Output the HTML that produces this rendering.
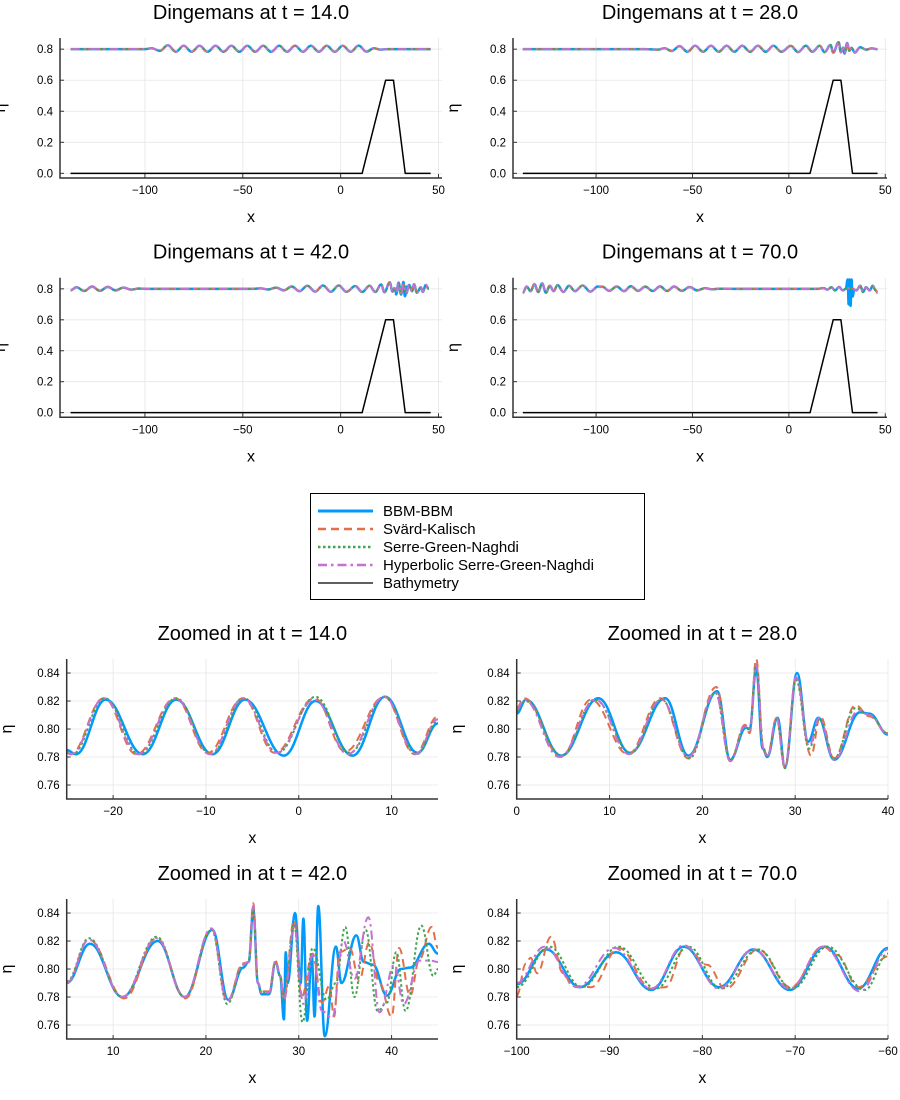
<!DOCTYPE html>
<html><head><meta charset="utf-8"><title>Dingemans comparison</title>
<style>
html,body{margin:0;padding:0;background:#fff;}
svg{display:block;font-family:"Liberation Sans","DejaVu Sans",sans-serif;}
</style></head>
<body>
<svg id="fig" width="900" height="1100" viewBox="0 0 900 1100" xmlns="http://www.w3.org/2000/svg"></svg>
<script>
// ---------- data: overview panels (single set drawn for every model, they overlap) ----------
const p1X=[-138,-100,-96.5,-92.4,-88.3,-84.2,-80.2,-76.1,-72.1,-68.0,-63.9,-59.9,-55.8,-51.8,-47.7,-43.6,-39.6,-35.5,-31.4,-27.4,-23.3,-19.3,-15.2,-11.1,-7.1,-3.0,1.1,5.1,9.2,13.2,17.0,20.5,24,46];
const p1Y=[0.8,0.8,0.806,0.789,0.825,0.783,0.822,0.783,0.822,0.783,0.822,0.783,0.822,0.783,0.822,0.783,0.822,0.783,0.822,0.783,0.822,0.783,0.822,0.783,0.822,0.783,0.822,0.783,0.823,0.784,0.806,0.797,0.8,0.8];
const p2X=[-138,-75,-68,-64.5,-60.8,-56.7,-52.6,-48.6,-44.5,-40.4,-36.4,-32.3,-28.3,-24.2,-20.1,-16.1,-12.0,-8.0,-3.9,1,4.8,8.8,12.2,16,18.5,21.6,23,25.8,27,28.1,28.9,30.2,31.4,32.5,34.2,37,40,43,46];
const p2Y=[0.8,0.8,0.797,0.806,0.788,0.82,0.783,0.822,0.783,0.822,0.783,0.822,0.783,0.822,0.783,0.822,0.783,0.822,0.783,0.821,0.781,0.822,0.783,0.822,0.781,0.827,0.778,0.845,0.78,0.81,0.772,0.84,0.79,0.808,0.778,0.812,0.797,0.805,0.8];
const p3X=[-138,-135,-131,-127,-123,-119,-115,-111,-107,-103,-100,-45,-41,-37,-33,-29,-25,-21,-17,-13,-9,-5,-1,3,7.5,11,14.8,17.7,20.7,22.4,25.1,26.5,27.5,28.4,29.6,30.9,32.1,33.5,35,36.5,37.5,39,41,42,43.5,45];
const p3Y=[0.79,0.81,0.786,0.815,0.787,0.813,0.79,0.808,0.795,0.802,0.8,0.8,0.803,0.796,0.808,0.79,0.815,0.785,0.82,0.782,0.822,0.781,0.822,0.781,0.818,0.78,0.82,0.78,0.828,0.778,0.842,0.782,0.805,0.775,0.835,0.77,0.83,0.77,0.825,0.785,0.83,0.775,0.81,0.78,0.825,0.8];
const p3BlueX=[28,28.4,29.6,30.9,32.1,32.8,34];
const p3BlueY=[0.8,0.764,0.84,0.763,0.845,0.752,0.816];
const p4X=[-138,-136,-134,-132,-130,-128,-126,-124,-122,-120,-117,-114,-111,-107,-103,-99,-96.8,-93.2,-89.3,-85.5,-82,-78.2,-74.5,-70.6,-66.8,-63.2,-59.5,-55.5,-51.5,-47.5,-43.5,-40,-36,-30,15,18,20,22,24,26,28,30,33,35,37,38.5,40,42,43.5,45,46];
const p4Y=[0.775,0.815,0.785,0.83,0.78,0.835,0.775,0.82,0.785,0.825,0.78,0.82,0.785,0.822,0.782,0.815,0.814,0.787,0.815,0.785,0.817,0.787,0.814,0.786,0.816,0.786,0.815,0.787,0.812,0.79,0.805,0.797,0.801,0.8,0.8,0.805,0.795,0.81,0.79,0.812,0.79,0.805,0.8,0.79,0.82,0.78,0.81,0.79,0.82,0.79,0.775];
const p4BlueX=[29.5,30.5,31,31.5,32,32.5,33,34];
const p4BlueY=[0.8,0.86,0.70,0.86,0.69,0.86,0.75,0.8];
const bathX=[-138,11,23,27,33,46];
const bathY=[0,0,0.6,0.6,0,0];
const overviewTimes=["14.0","28.0","42.0","70.0"];
const overviewXTicks=[-100,-50,0,50];
const overviewYTicks=[0,0.2,0.4,0.6,0.8];

// ---------- data: zoomed panels ----------
const z1BlueX=[-25,-24,-20.8,-16.8,-13.2,-9.3,-5.8,-1.6,1.8,5.8,9.3,12.8,15];
const z1BlueY=[0.785,0.782,0.821,0.782,0.821,0.782,0.821,0.781,0.820,0.781,0.823,0.783,0.804];
const z1OrangeX=[-25,-24.6,-21,-17.5,-13.3,-9.8,-6,-2.6,1.7,5,9.2,12.5,15];
const z1OrangeY=[0.783,0.782,0.822,0.782,0.822,0.783,0.822,0.783,0.822,0.784,0.823,0.782,0.809];
const z1GreenX=[-25,-24.4,-20.9,-17.2,-13.2,-9.5,-5.9,-2.3,1.8,5.5,9.2,12.7,15];
const z1GreenY=[0.784,0.782,0.822,0.782,0.822,0.782,0.822,0.783,0.823,0.783,0.823,0.782,0.806];
const z1PurpleX=[-25,-24.5,-21,-17.3,-13.3,-9.6,-6,-2.4,1.7,5.3,9.2,12.6,15];
const z1PurpleY=[0.783,0.782,0.822,0.782,0.822,0.782,0.822,0.783,0.821,0.782,0.823,0.782,0.807];

const z2BlueX=[0,1,4.8,8.8,12.2,16,18.5,21.6,23,24.7,25.1,25.8,26.5,27,28.1,28.9,30.2,31.4,32.5,34.2,37,38,40];
const z2BlueY=[0.811,0.821,0.781,0.822,0.783,0.822,0.781,0.827,0.778,0.801,0.800,0.843,0.786,0.780,0.808,0.773,0.840,0.791,0.808,0.778,0.812,0.811,0.796];
const z2OrangeX=[0,0.8,4.8,8,12,15.5,18.5,21.5,23,24.6,25.1,25.8,26.6,27,28,28.9,30.1,31.7,32.7,34.2,36.5,38,40];
const z2OrangeY=[0.815,0.822,0.780,0.821,0.782,0.822,0.779,0.830,0.777,0.803,0.797,0.850,0.785,0.781,0.808,0.772,0.836,0.781,0.809,0.779,0.817,0.809,0.797];
const z2GreenX=[0,0.9,4.9,8.4,12.3,15.6,18.6,21.4,23,24.6,25.1,25.8,26.6,27,28,28.9,30.1,31.5,32.6,34.2,36.5,38,40];
const z2GreenY=[0.813,0.820,0.781,0.821,0.783,0.821,0.779,0.826,0.778,0.802,0.799,0.846,0.786,0.781,0.807,0.772,0.835,0.786,0.807,0.779,0.815,0.810,0.797];
const z2PurpleX=[0,0.8,4.6,8.5,12.1,15.6,18.5,21.4,23,24.6,25.1,25.8,26.6,27,28,28.9,30.1,31.5,32.6,34.2,36.8,38,40];
const z2PurpleY=[0.814,0.821,0.780,0.821,0.782,0.821,0.780,0.826,0.777,0.802,0.799,0.846,0.786,0.780,0.808,0.773,0.837,0.788,0.808,0.778,0.813,0.810,0.796];

const z3BlueX=[5,7.5,11,14.8,17.7,20.7,22.4,24,24.6,25.1,25.6,26,26.8,27.5,28,28.4,28.6,28.8,29.6,30.2,30.5,30.9,31.4,31.7,32.1,32.8,34,34.6,36.2,37,38,39.5,41,42,44,45];
const z3BlueY=[0.790,0.818,0.780,0.820,0.780,0.828,0.778,0.801,0.805,0.842,0.790,0.782,0.782,0.805,0.795,0.764,0.812,0.790,0.840,0.790,0.836,0.763,0.810,0.766,0.845,0.752,0.816,0.790,0.824,0.805,0.803,0.781,0.800,0.801,0.818,0.811];
const z3OrangeX=[5,7.4,11.2,14.7,17.8,20.6,22.3,24,24.6,25.1,25.6,26,26.8,27.5,28,28.4,29.5,30.3,31.5,32.5,33.3,33.8,34.4,35.5,36.5,37.6,38.7,40,40.8,42,43,44.3,45];
const z3OrangeY=[0.790,0.821,0.779,0.822,0.779,0.829,0.777,0.804,0.805,0.847,0.790,0.784,0.784,0.806,0.795,0.780,0.835,0.780,0.811,0.776,0.788,0.766,0.812,0.815,0.792,0.819,0.790,0.766,0.815,0.781,0.807,0.830,0.815];
const z3GreenX=[5,7.4,11,14.7,17.7,20.6,22.3,24,24.6,25.1,25.6,26,26.8,27.5,28,28.4,29.5,30.4,31.5,33,34,35,36,37.2,38.5,39.5,40.5,41.5,43.2,44.5,45];
const z3GreenY=[0.791,0.822,0.780,0.823,0.780,0.828,0.775,0.803,0.805,0.844,0.790,0.783,0.783,0.805,0.795,0.778,0.832,0.762,0.815,0.778,0.790,0.830,0.780,0.828,0.770,0.776,0.812,0.770,0.831,0.795,0.800];
const z3PurpleX=[5,7.4,11,14.7,17.7,20.6,22.3,24,24.6,25.1,25.6,26,26.8,27.5,28,28.4,29.5,30.5,31.5,32.5,33.6,34.8,36,37.5,38.7,40.3,41.3,43,44.2,45];
const z3PurpleY=[0.790,0.821,0.780,0.822,0.780,0.829,0.777,0.803,0.805,0.845,0.790,0.783,0.783,0.806,0.795,0.778,0.830,0.775,0.810,0.770,0.765,0.820,0.793,0.837,0.769,0.803,0.775,0.806,0.806,0.805];

const z4BlueX=[-100,-96.8,-93.2,-89.3,-85.5,-82,-78.2,-74.5,-70.6,-66.8,-63.2,-60];
const z4BlueY=[0.789,0.814,0.787,0.812,0.785,0.816,0.787,0.814,0.785,0.816,0.786,0.815];
const z4OrangeX=[-100,-99,-98.5,-97.8,-96.3,-95,-94,-92,-89,-85.5,-84,-81.8,-79.5,-77.5,-74,-70.5,-67,-65.5,-63.2,-60];
const z4OrangeY=[0.781,0.804,0.808,0.797,0.823,0.797,0.788,0.787,0.815,0.786,0.787,0.816,0.803,0.786,0.814,0.787,0.816,0.81,0.787,0.809];
const z4GreenX=[-100,-96.5,-93,-89,-85,-81.5,-78,-74,-70.3,-66.5,-62.5,-60];
const z4GreenY=[0.787,0.816,0.787,0.816,0.786,0.816,0.786,0.814,0.786,0.816,0.785,0.811];
const z4PurpleX=[-100,-97,-93.5,-89.5,-85.5,-82,-78.2,-74.5,-70.6,-67,-63,-60];
const z4PurpleY=[0.790,0.816,0.787,0.815,0.786,0.817,0.786,0.814,0.786,0.816,0.784,0.814];

const zoomTimes=["14.0","28.0","42.0","70.0"];
const zoomYTicks=[0.76,0.78,0.80,0.82,0.84];
const z1XTicks=[-20,-10,0,10];
const z2XTicks=[0,10,20,30,40];
const z3XTicks=[10,20,30,40];
const z4XTicks=[-100,-90,-80,-70,-60];
const legendLabels=["BBM-BBM","Svärd-Kalisch","Serre-Green-Naghdi","Hyperbolic Serre-Green-Naghdi","Bathymetry"];

// ---------- rendering ----------
const NS="http://www.w3.org/2000/svg";
const svg=document.getElementById('fig');
const COLORS={blue:"#009AFA",orange:"#E26F46",green:"#3EA44E",purple:"#C371D2",bath:"#000"};
const DASH={blue:null,orange:"8,5",green:"2.5,2.5",purple:"9,4,2.5,4",bath:null};
const WIDTH={blue:2.5,orange:2,green:2,purple:2,bath:1.5};
let clipId=0;
function mk(tag,attrs,parent){const e=document.createElementNS(NS,tag);for(const k in attrs)e.setAttribute(k,attrs[k]);(parent||svg).appendChild(e);return e;}
function fmt(v,dec){return (v<0?"\u2212":"")+Math.abs(v).toFixed(dec);}
function smoothPath(xs,ys,sx,sy){
  let d="M"+sx(xs[0]).toFixed(2)+","+sy(ys[0]).toFixed(2);
  for(let i=1;i<xs.length;i++){
    const x0=sx(xs[i-1]),y0=sy(ys[i-1]),x1=sx(xs[i]),y1=sy(ys[i]);const dx=x1-x0;
    d+=" C"+(x0+dx*0.4).toFixed(2)+","+y0.toFixed(2)+" "+(x1-dx*0.4).toFixed(2)+","+y1.toFixed(2)+" "+x1.toFixed(2)+","+y1.toFixed(2);
  }
  return d;
}
function linePath(xs,ys,sx,sy){return xs.map((x,i)=>(i?"L":"M")+sx(x).toFixed(2)+","+sy(ys[i]).toFixed(2)).join(" ");}
function panel(cfg){
  const g=mk('g',{});
  
  
  const sx=v=>cfg.l+(v-cfg.x0)/(cfg.x1-cfg.x0)*(cfg.r-cfg.l);
  const sy=v=>cfg.b-(v-cfg.y0)/(cfg.y1-cfg.y0)*(cfg.b-cfg.t);
  const t=mk('text',{x:(cfg.l+cfg.r)/2,y:cfg.t-19,'text-anchor':'middle','font-size':20,fill:'#000'},g);
  
  
  t.textContent=cfg.title;
  cfg.xticks.forEach(v=>{
    const X=sx(v);
    const gl=mk('line',{x1:X,x2:X,y1:cfg.t,y2:cfg.b,stroke:'#e6e6e6','stroke-width':0.8},g);
    
    
    mk('line',{x1:X,x2:X,y1:cfg.b,y2:cfg.b-4,stroke:'#333','stroke-width':1},g);
    const tl=mk('text',{x:X,y:cfg.b+16,'text-anchor':'middle','font-size':11.5,fill:'#000'},g);
    
    
    tl.textContent=fmt(v,0);
  });
  cfg.yticks.forEach(v=>{
    const Y=sy(v);
    const gl=mk('line',{x1:cfg.l,x2:cfg.r,y1:Y,y2:Y,stroke:'#e6e6e6','stroke-width':0.8},g);
    
    
    mk('line',{x1:cfg.l,x2:cfg.l+4,y1:Y,y2:Y,stroke:'#333','stroke-width':1},g);
    const tl=mk('text',{x:cfg.l-7,y:Y+4,'text-anchor':'end','font-size':11.5,fill:'#000'},g);
    
    
    tl.textContent=fmt(v,cfg.ydec);
  });
  const cid='clip'+(clipId++);
  const cp=mk('clipPath',{id:cid},g);mk('rect',{x:cfg.l,y:cfg.t,width:cfg.r-cfg.l,height:cfg.b-cfg.t},cp);
  const sg=mk('g',{'clip-path':'url(#'+cid+')'},g);
  cfg.series.forEach(s=>{
    const d=s.linear?linePath(s.x,s.y,sx,sy):smoothPath(s.x,s.y,sx,sy);
    const p=mk('path',{d:d,fill:'none',stroke:COLORS[s.c],'stroke-width':WIDTH[s.c],'stroke-linejoin':'round'},sg);
    if(DASH[s.c])p.setAttribute('stroke-dasharray',DASH[s.c]);
    
    
  });
  const ax=mk('path',{d:`M${cfg.l},${cfg.t} L${cfg.l},${cfg.b} L${cfg.r},${cfg.b}`,fill:'none',stroke:'#333','stroke-width':1.5},g);
  
  
  const xl=mk('text',{x:(cfg.l+cfg.r)/2,y:cfg.b+44,'text-anchor':'middle','font-size':16,fill:'#000'},g);
  
  
  xl.textContent='x';
  const yl=mk('text',{x:0,y:0,'text-anchor':'middle','font-size':16,fill:'#000',transform:`translate(${cfg.l-55},${(cfg.t+cfg.b)/2}) rotate(-90)`},g);
  
  
  yl.textContent='η';
}
function ov(X,Y,bx,by){
  const s=[];
  if(bx)s.push({c:'blue',x:bx,y:by,name:'bbm-bbm-burst'});
  s.push({c:'blue',x:X,y:Y,name:'bbm-bbm-line'},{c:'orange',x:X,y:Y,name:'svard-kalisch-line'},{c:'green',x:X,y:Y,name:'serre-green-naghdi-line'},{c:'purple',x:X,y:Y,name:'hyperbolic-sgn-line'},{c:'bath',x:bathX,y:bathY,linear:true,name:'bathymetry-line'});
  return s;
}
const topY0=-0.030,topY1=0.872;
const ovs=[[p1X,p1Y],[p2X,p2Y],[p3X,p3Y,p3BlueX,p3BlueY],[p4X,p4Y,p4BlueX,p4BlueY]];
const ovFrames=[{l:60,r:442,t:38,b:178,x0:-143.4,x1:51.8},{l:513,r:887,t:38,b:178,x0:-143.1,x1:50.9},{l:60,r:442,t:277.7,b:417.3,x0:-143.4,x1:51.8},{l:513,r:887,t:277.7,b:417.3,x0:-143.1,x1:50.9}];
ovFrames.forEach((f,i)=>{
  panel(Object.assign({},f,{name:'overview-panel-t'+overviewTimes[i],title:'Dingemans at t = '+overviewTimes[i],y0:topY0,y1:topY1,xticks:overviewXTicks,yticks:overviewYTicks,ydec:1,series:ov(...ovs[i])}));
});
function zs(bx,by,ox,oy,gx,gy,px,py){return [{c:'blue',x:bx,y:by,name:'bbm-bbm-line'},{c:'orange',x:ox,y:oy,name:'svard-kalisch-line'},{c:'green',x:gx,y:gy,name:'serre-green-naghdi-line'},{c:'purple',x:px,y:py,name:'hyperbolic-sgn-line'}];}
const zFrames=[
 {l:66.7,r:438,t:659,b:799,x0:-25,x1:15,xticks:z1XTicks,series:zs(z1BlueX,z1BlueY,z1OrangeX,z1OrangeY,z1GreenX,z1GreenY,z1PurpleX,z1PurpleY)},
 {l:516.7,r:888,t:659,b:799,x0:0,x1:40,xticks:z2XTicks,series:zs(z2BlueX,z2BlueY,z2OrangeX,z2OrangeY,z2GreenX,z2GreenY,z2PurpleX,z2PurpleY)},
 {l:66.7,r:438,t:899,b:1039,x0:5,x1:45,xticks:z3XTicks,series:zs(z3BlueX,z3BlueY,z3OrangeX,z3OrangeY,z3GreenX,z3GreenY,z3PurpleX,z3PurpleY)},
 {l:516.7,r:888,t:899,b:1039,x0:-100,x1:-60,xticks:z4XTicks,series:zs(z4BlueX,z4BlueY,z4OrangeX,z4OrangeY,z4GreenX,z4GreenY,z4PurpleX,z4PurpleY)}];
zFrames.forEach((f,i)=>{
  panel(Object.assign({},f,{name:'zoomed-panel-t'+zoomTimes[i],title:'Zoomed in at t = '+zoomTimes[i],y0:0.75,y1:0.85,yticks:zoomYTicks,ydec:2}));
});
// legend
const lg=mk('g',{});


mk('rect',{x:310.5,y:493.5,width:334,height:106,fill:'#fff',stroke:'#000','stroke-width':1},lg);
const lc=['blue','orange','green','purple','bath'];
legendLabels.forEach((lab,i)=>{
  const y=511+i*18;
  const e=mk('g',{},lg);
  
  
  const l=mk('line',{x1:318,x2:373,y1:y,y2:y,stroke:COLORS[lc[i]],'stroke-width':lc[i]==='bath'?1.2:WIDTH[lc[i]]+0.5},e);
  if(DASH[lc[i]])l.setAttribute('stroke-dasharray',DASH[lc[i]]);
  const t=mk('text',{x:383,y:y+5,'font-size':15,fill:'#000'},e);
  t.textContent=lab;
});
</script>
</body></html>
